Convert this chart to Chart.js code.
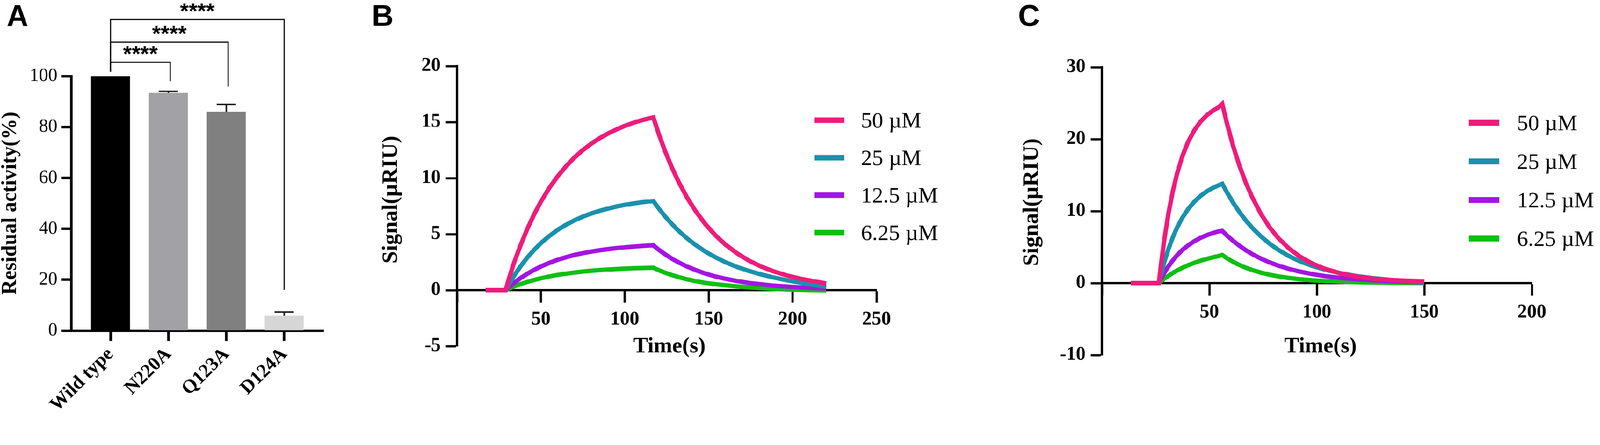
<!DOCTYPE html>
<html><head><meta charset="utf-8">
<script src="https://cdn.jsdelivr.net/npm/chart.js@4.4.1/dist/chart.umd.min.js"></script>
<style>
html,body{margin:0;padding:0;background:#fff;overflow:hidden}
#wrap{position:absolute;left:0;top:0;width:4317px;height:1138px;transform-origin:0 0;background:#fff}
canvas{position:absolute;top:0}
</style></head><body>
<div id="wrap">
<canvas id="cA" width="960" height="1138" style="left:0;width:960px;height:1138px"></canvas>
<canvas id="cB" width="1740" height="1138" style="left:960px;width:1740px;height:1138px"></canvas>
<canvas id="cC" width="1617" height="1138" style="left:2700px;width:1617px;height:1138px"></canvas>
</div>
<script>
(function () {
  const s = Math.min(window.innerWidth / 4317, window.innerHeight / 1138);
  if (s > 0 && Math.abs(s - 1) > 0.001) document.getElementById('wrap').style.transform = 'scale(' + s + ')';
})();

// ---------- Panel A data ----------
const categories = ['Wild type', 'N220A', 'Q123A', 'D124A'];
const activity = [100, 93.4, 86.0, 5.8];
const activityErr = [0, 0.6, 2.9, 1.5];
const barColors = ['#000000', '#a2a2a6', '#808080', '#d6d6d6'];
const sigPairs = [[0, 1], [0, 2], [0, 3]];
const sigLabels = ['****', '****', '****'];

// ---------- Panel B data ----------
const seriesLabels = ['50 µM', '25 µM', '12.5 µM', '6.25 µM'];
const seriesColors = ['#ee1c7b', '#1a91ad', '#a414e4', '#10bf14'];
const timesB = [17, 29, 31, 34, 38, 42, 46, 50, 55, 60, 65, 70, 75, 80, 85, 90, 95, 100, 105, 110, 114, 117,
  120, 124, 128, 132, 137, 142, 148, 154, 160, 167, 174, 181, 188, 196, 204, 212, 220];
const b50 = [0, 0, 1.05, 2.45, 4.05, 5.50, 6.77, 7.90, 9.12, 10.16, 11.06, 11.84, 12.50, 13.07, 13.56, 13.98, 14.34, 14.66, 14.93, 15.16, 15.31, 15.41,
  14.04, 12.40, 10.96, 9.68, 8.29, 7.10, 5.89, 4.89, 4.06, 3.27, 2.63, 2.12, 1.71, 1.33, 1.04, 0.81, 0.60];
const b25 = [0, 0, 0.55, 1.28, 2.15, 2.93, 3.60, 4.20, 4.83, 5.38, 5.84, 6.23, 6.56, 6.84, 7.08, 7.28, 7.46, 7.61, 7.73, 7.84, 7.91, 7.95,
  7.33, 6.58, 5.91, 5.30, 4.63, 4.05, 3.44, 2.93, 2.49, 2.06, 1.71, 1.41, 1.15, 0.90, 0.68, 0.48, 0.30];
const b12 = [0, 0, 0.28, 0.65, 1.09, 1.47, 1.81, 2.11, 2.43, 2.71, 2.94, 3.14, 3.30, 3.44, 3.56, 3.66, 3.75, 3.82, 3.88, 3.94, 3.98, 4.00,
  3.63, 3.20, 2.81, 2.48, 2.11, 1.80, 1.48, 1.22, 1.01, 0.81, 0.64, 0.52, 0.41, 0.32, 0.25, 0.19, 0.14];
const b6 = [0, 0, 0.14, 0.33, 0.55, 0.74, 0.91, 1.06, 1.22, 1.36, 1.47, 1.57, 1.66, 1.73, 1.79, 1.84, 1.88, 1.92, 1.95, 1.97, 1.99, 2.00,
  1.79, 1.55, 1.35, 1.17, 0.97, 0.81, 0.65, 0.53, 0.43, 0.33, 0.25, 0.18, 0.12, 0.07, 0.03, 0.00, -0.02];

// ---------- Panel C data ----------
const timesC = [13.5, 26.5, 27.5, 29, 31, 33, 35, 37.5, 40, 43, 46, 49, 52, 54, 56,
  58, 61, 64, 67, 70, 74, 78, 82, 87, 92, 98, 104, 111, 118, 126, 134, 142, 150];
const c50 = [0, 0, 2.57, 5.96, 9.72, 12.76, 15.23, 17.67, 19.55, 21.24, 22.47, 23.37, 24.03, 24.36, 24.9,
  22.4, 19.1, 16.3, 13.9, 11.9, 9.6, 7.76, 6.28, 4.82, 3.70, 2.69, 1.96, 1.35, 0.93, 0.61, 0.42, 0.32, 0.25];
const c25 = [0, 0, 1.22, 2.87, 4.77, 6.37, 7.72, 9.11, 10.24, 11.31, 12.14, 12.78, 13.28, 13.55, 13.8,
  12.7, 11.2, 9.86, 8.69, 7.66, 6.48, 5.48, 4.63, 3.75, 3.04, 2.37, 1.84, 1.37, 1.00, 0.68, 0.45, 0.28, 0.15];
const c12 = [0, 0, 0.59, 1.40, 2.35, 3.16, 3.87, 4.61, 5.22, 5.82, 6.30, 6.68, 6.99, 7.16, 7.25,
  6.66, 5.88, 5.18, 4.57, 4.02, 3.40, 2.88, 2.43, 1.97, 1.60, 1.24, 0.96, 0.72, 0.54, 0.38, 0.27, 0.18, 0.10];
const c6 = [0, 0, 0.25, 0.60, 1.02, 1.41, 1.75, 2.13, 2.47, 2.82, 3.12, 3.38, 3.60, 3.73, 3.9,
  3.49, 2.96, 2.51, 2.13, 1.81, 1.45, 1.16, 0.93, 0.71, 0.54, 0.39, 0.28, 0.19, 0.13, 0.08, 0.05, 0.03, 0.02];

// ---------- plugins ----------
const panelText = {
  id: 'panelText',
  afterDraw(chart, args, opts) {
    const ctx = chart.ctx;
    (opts.items || []).forEach(it => {
      ctx.save();
      ctx.font = it.font; ctx.fillStyle = '#000';
      ctx.textAlign = it.align || 'center';
      ctx.textBaseline = it.baseline || 'middle';
      ctx.translate(it.x, it.y);
      if (it.rot) ctx.rotate(it.rot);
      ctx.fillText(it.text, 0, 0);
      ctx.restore();
    });
  }
};
const lineLegend = {
  id: 'lineLegend',
  afterDraw(chart, args, o) {
    const ctx = chart.ctx;
    chart.data.datasets.forEach((ds, i) => {
      const cy = o.y0 + i * o.dy;
      ctx.save();
      ctx.fillStyle = ds.borderColor;
      ctx.fillRect(o.x, cy - o.h / 2, o.w, o.h);
      ctx.fillStyle = '#000'; ctx.font = o.font;
      ctx.textAlign = 'left'; ctx.textBaseline = 'alphabetic';
      ctx.fillText(ds.label, o.textX, cy + o.shift);
      ctx.restore();
    });
  }
};
const errorBars = {
  id: 'errorBars',
  afterDatasetsDraw(chart, args, o) {
    const meta = chart.getDatasetMeta(0), ys = chart.scales.y, ctx = chart.ctx;
    meta.data.forEach((bar, i) => {
      const e = activityErr[i]; if (!e) return;
      const top = ys.getPixelForValue(activity[i] + e);
      ctx.save(); ctx.strokeStyle = o.color; ctx.lineWidth = o.width;
      ctx.beginPath(); ctx.moveTo(bar.x, bar.y); ctx.lineTo(bar.x, top);
      ctx.moveTo(bar.x - o.cap, top); ctx.lineTo(bar.x + o.cap, top);
      ctx.stroke(); ctx.restore();
    });
  }
};
const sigBrackets = {
  id: 'sigBrackets',
  afterDatasetsDraw(chart, args, o) {
    const xs = chart.scales.x, ys = chart.scales.y, ctx = chart.ctx;
    sigPairs.forEach((p, i) => {
      const x1 = xs.getPixelForValue(p[0]);
      const x2 = xs.getPixelForValue(p[1]) + o.rightShift[i];
      const yl = ys.getPixelForValue(o.levels[i]);
      const yf1 = ys.getPixelForValue(o.leftFoot);
      const yf2 = ys.getPixelForValue(o.rightFeet[i]);
      ctx.save(); ctx.strokeStyle = '#000'; ctx.lineWidth = o.width; ctx.lineJoin = 'miter';
      ctx.beginPath(); ctx.moveTo(x1, yf1); ctx.lineTo(x1, yl); ctx.lineTo(x2, yl); ctx.lineTo(x2, yf2); ctx.stroke();
      ctx.font = o.font; ctx.fillStyle = '#000'; ctx.textAlign = 'center'; ctx.textBaseline = 'alphabetic';
      ctx.fillText(sigLabels[i], (x1 + x2) / 2, yl + o.textShift);
      ctx.restore();
    });
  }
};

const serif = 'Liberation Serif';
const axisGrid = (len, w) => ({ display: true, drawOnChartArea: false, drawTicks: true, offset: false,
  tickLength: len, tickWidth: w, tickColor: '#000' });
const axisBorder = w => ({ display: true, color: '#000', width: w });
const noPadX = h => s => { s.height = h; s.paddingLeft = 0; s.paddingRight = 0; };
const noPadY = w => s => { s.width = w; s.paddingTop = 0; s.paddingBottom = 0; };

// ---------- Panel A ----------
new Chart(document.getElementById('cA'), {
  type: 'bar',
  data: {
    datasets: [{
      data: activity.map((v, i) => ({ x: i, y: v })),
      backgroundColor: barColors, borderWidth: 0,
      categoryPercentage: 1, barPercentage: 0.673
    }]
  },
  options: {
    responsive: false, animation: false, devicePixelRatio: 1,
    layout: { padding: { top: 205, right: 87, bottom: 0, left: 0 } },
    plugins: {
      legend: { display: false }, tooltip: { enabled: false },
      errorBars: { color: '#1a1a1a', width: 4, cap: 26 },
      sigBrackets: { levels: [105.4, 113.3, 122.2], leftFoot: 101.7, rightFeet: [98, 95.9, 16],
        rightShift: [5, 5, 0], width: 3, font: 'bold 60px "Liberation Sans"', textShift: -3 },
      panelText: { items: [
        { text: 'A', x: 18, y: 70, font: 'bold 81px "Liberation Sans"', align: 'left', baseline: 'alphabetic' },
        { text: 'Residual activity(%)', x: 29, y: 548, rot: -Math.PI / 2, font: 'bold 56px "Liberation Serif"' }
      ] }
    },
    scales: {
      x: {
        type: 'linear', offset: false, min: -0.68, max: 3.68,
        afterBuildTicks: s => { s.ticks = categories.map((c, i) => ({ value: i })); },
        afterFit: noPadX(247),
        ticks: { autoSkip: false, maxRotation: 45, minRotation: 45, padding: 6, color: '#000',
          font: { family: serif, size: 52, weight: 'bold' }, callback: v => categories[v] },
        grid: axisGrid(28, 7), border: axisBorder(7)
      },
      y: {
        min: 0, max: 100,
        afterFit: noPadY(192),
        ticks: { stepSize: 20, padding: 10, color: '#000', font: { family: serif, size: 50 } },
        grid: axisGrid(27, 7), border: axisBorder(7)
      }
    }
  },
  plugins: [errorBars, sigBrackets, panelText]
});

// ---------- line panels ----------
function lineDatasets(times, arrs) {
  return arrs.map((arr, k) => ({
    label: seriesLabels[k],
    data: times.map((t, i) => ({ x: t, y: arr[i] })),
    borderColor: seriesColors[k], backgroundColor: seriesColors[k],
    borderWidth: 12, pointRadius: 0, tension: 0, fill: false,
    borderJoinStyle: 'miter', borderCapStyle: 'butt'
  }));
}
function lineOptions(cfg) {
  return {
    responsive: false, animation: false, devicePixelRatio: 1,
    layout: { padding: cfg.padding },
    plugins: {
      legend: { display: false }, tooltip: { enabled: false },
      lineLegend: cfg.legend,
      panelText: { items: cfg.texts }
    },
    scales: {
      x: {
        type: 'linear', position: { y: 0 }, min: cfg.xMin, max: cfg.xMax,
        ticks: { stepSize: cfg.xStep, padding: 17, color: '#000', maxRotation: 0, autoSkip: false,
          font: { family: serif, size: 52, weight: 'bold' }, callback: v => (v === 0 ? '' : v) },
        grid: axisGrid(31, 6), border: axisBorder(6)
      },
      y: {
        min: cfg.yMin, max: cfg.yMax,
        afterFit: noPadY(cfg.yWidth),
        ticks: { stepSize: cfg.yStep, padding: 14, color: '#000', font: { family: serif, size: 52, weight: 'bold' } },
        grid: axisGrid(30, 6), border: axisBorder(6)
      }
    }
  };
}

new Chart(document.getElementById('cB'), {
  type: 'line',
  data: { datasets: lineDatasets(timesB, [b50, b25, b12, b6]) },
  options: lineOptions({
    padding: { top: 178, right: 335, bottom: 205, left: 0 },
    xMin: 0, xMax: 250, xStep: 50, yMin: -5, yMax: 20, yStep: 5, yWidth: 273,
    legend: { x: 1237, w: 81, h: 15, y0: 324, dy: 101, textX: 1363, font: '60px "Liberation Serif"', shift: 20 },
    texts: [
      { text: 'B', x: 43, y: 70, font: 'bold 81px "Liberation Sans"', align: 'left', baseline: 'alphabetic' },
      { text: 'Signal(µRIU)', x: 95, y: 538, rot: -Math.PI / 2, font: 'bold 60px "Liberation Serif"' },
      { text: 'Time(s)', x: 846, y: 934, font: 'bold 60px "Liberation Serif"' }
    ]
  }),
  plugins: [lineLegend, panelText]
});

new Chart(document.getElementById('cC'), {
  type: 'line',
  data: { datasets: lineDatasets(timesC, [c50, c25, c12, c6]) },
  options: lineOptions({
    padding: { top: 181, right: 184, bottom: 181, left: 0 },
    xMin: 0, xMax: 200, xStep: 50, yMin: -10, yMax: 30, yStep: 10, yWidth: 273,
    legend: { x: 1263, w: 82, h: 16, y0: 331, dy: 104, textX: 1393, font: '60px "Liberation Serif"', shift: 20 },
    texts: [
      { text: 'C', x: 47, y: 70, font: 'bold 81px "Liberation Sans"', align: 'left', baseline: 'alphabetic' },
      { text: 'Signal(µRIU)', x: 84, y: 545, rot: -Math.PI / 2, font: 'bold 60px "Liberation Serif"' },
      { text: 'Time(s)', x: 863, y: 934, font: 'bold 60px "Liberation Serif"' }
    ]
  }),
  plugins: [lineLegend, panelText]
});
</script>
</body></html>
